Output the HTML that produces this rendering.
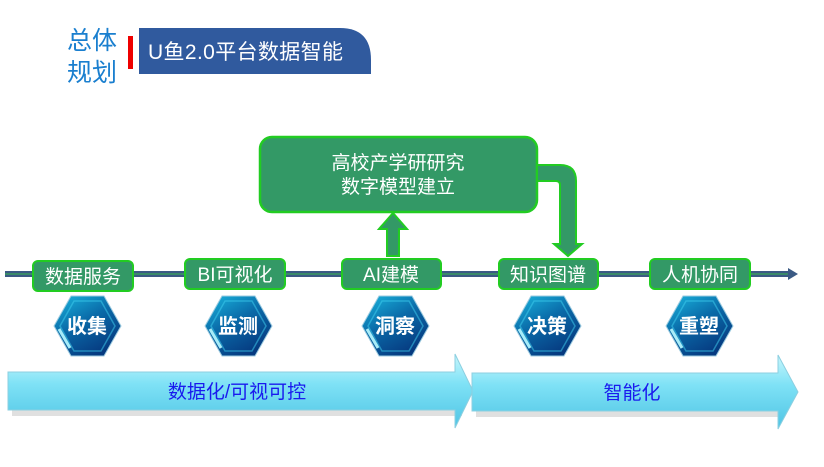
<!DOCTYPE html>
<html><head><meta charset="utf-8"><style>
html,body{margin:0;padding:0;background:#fff;width:824px;height:467px;overflow:hidden}
svg text{font-family:"Liberation Sans","Noto Sans CJK SC",sans-serif}
</style></head><body>
<svg width="824" height="467" viewBox="0 0 824 467" xmlns="http://www.w3.org/2000/svg">
<defs>
<linearGradient id="hex" x1="0" y1="0" x2="0.6" y2="1">
<stop offset="0" stop-color="#1ab8e0"/><stop offset="0.5" stop-color="#0a6aa8"/><stop offset="1" stop-color="#063a80"/>
</linearGradient>
<linearGradient id="bar" x1="0" y1="0" x2="0" y2="1">
<stop offset="0" stop-color="#c8f6fc"/><stop offset="0.4" stop-color="#7fe2f6"/><stop offset="1" stop-color="#4ec4e4"/>
</linearGradient>
<g id="hx">
<polygon points="-33,0 -16,-30 17,-30 34,0 17,30 -16,30" fill="url(#hex)" stroke="#9ccbe0" stroke-width="1"/>
<polygon points="-27,0 -13,-25 14,-25 28,0 14,25 -13,25" fill="none" stroke="#3fd0f0" stroke-width="1.5" opacity="0.5"/>
<line x1="-28" y1="3" x2="-17" y2="22" stroke="#a8ecf8" stroke-width="3"/>
</g>
</defs>
<text x="67" y="49" font-size="25" fill="#1a7fcf">总体</text>
<text x="67" y="81" font-size="25" fill="#1a7fcf">规划</text>
<rect x="128" y="36" width="5" height="33" fill="#ee0000"/>
<path d="M139,28 H340 Q371,28 371,60 V74 H139 Z" fill="#305a9e"/>
<text x="148" y="59" font-size="21" fill="#fff" textLength="195">U鱼2.0平台数据智能</text>
<rect x="5" y="271" width="786" height="6" fill="#3b5a84"/>
<line x1="5" y1="274" x2="791" y2="274" stroke="#3a9a60" stroke-width="1.5"/>
<polygon points="788,268 798,274 788,280" fill="#3b5a84"/>
<rect x="260" y="137" width="277" height="75" rx="12" fill="#339966" stroke="#22cc22" stroke-width="2.5"/>
<text x="398" y="169" font-size="19" fill="#fff" text-anchor="middle">高校产学研研究</text>
<text x="398" y="193" font-size="19" fill="#fff" text-anchor="middle">数字模型建立</text>
<polygon points="387,256 387,229 379,229 393,213 407,229 399,229 399,256" fill="#339966" stroke="#22cc22" stroke-width="2"/>
<path d="M538,165 H560 Q576,165 576,181 V244 H582 L568,256 L554,244 H560 V185 Q560,181 556,181 H538" fill="#339966" stroke="#22cc22" stroke-width="2"/>
<g font-size="19" fill="#fff" text-anchor="middle">
<rect x="33" y="261" width="100" height="30" rx="5" fill="#339966" stroke="#22cc22" stroke-width="2"/>
<text x="83" y="283">数据服务</text>
<rect x="185" y="259" width="100" height="30" rx="5" fill="#339966" stroke="#22cc22" stroke-width="2"/>
<text x="235" y="281">BI可视化</text>
<rect x="342" y="259" width="99" height="30" rx="5" fill="#339966" stroke="#22cc22" stroke-width="2"/>
<text x="391" y="281">AI建模</text>
<rect x="499" y="259" width="99" height="30" rx="5" fill="#339966" stroke="#22cc22" stroke-width="2"/>
<text x="548" y="281">知识图谱</text>
<rect x="650" y="259" width="100" height="30" rx="5" fill="#339966" stroke="#22cc22" stroke-width="2"/>
<text x="700" y="281">人机协同</text>
</g>
<g font-size="20" font-weight="bold" fill="#fff" text-anchor="middle">
<use href="#hx" x="87" y="326"/><text x="87" y="333">收集</text>
<use href="#hx" x="238" y="326"/><text x="238" y="333">监测</text>
<use href="#hx" x="395" y="326"/><text x="395" y="333">洞察</text>
<use href="#hx" x="547" y="326"/><text x="547" y="333">决策</text>
<use href="#hx" x="699" y="326"/><text x="699" y="333">重塑</text>
</g>
<rect x="12" y="378" width="450" height="38" fill="#000" opacity="0.12"/>
<polygon points="8,372 455,372 455,354 473,391 455,428 455,410 8,410" fill="url(#bar)" stroke="#8ccfe0" stroke-width="1"/>
<text x="237" y="398" font-size="19" fill="#1a1aee" text-anchor="middle">数据化/可视可控</text>
<rect x="476" y="379" width="305" height="38" fill="#000" opacity="0.12"/>
<polygon points="472,373 778,373 778,355 798,392 778,429 778,411 472,411" fill="url(#bar)" stroke="#8ccfe0" stroke-width="1"/>
<text x="632" y="399" font-size="19" fill="#1a1aee" text-anchor="middle">智能化</text>
</svg>
</body></html>
